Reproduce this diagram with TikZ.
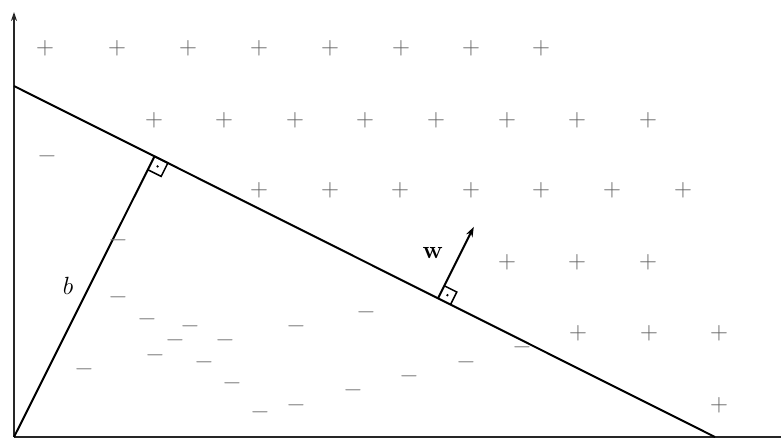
\documentclass[tikz,border=0pt]{standalone}
\usetikzlibrary{arrows.meta,calc}
\begin{document}
\begin{tikzpicture}[x=1pt,y=-1pt,
  pl/.style={inner sep=0pt,text=black!62,font=\fontsize{25}{25}\selectfont},
  mi/.style={inner sep=0pt,text=black!52,font=\fontsize{25}{25}\selectfont},
  lbl/.style={inner sep=0pt,font=\fontsize{25}{25}\selectfont},
  thk/.style={line width=2pt,black},
  ax/.style={line width=1.7pt,black!85}]
\useasboundingbox (0,0) rectangle (781,439);
% axes
\coordinate (O) at (14,437);
\coordinate (Ytop) at (14,12);
\coordinate (Xend) at (790,437);
\draw[ax,-{Stealth[length=9pt,width=6pt]}] (O) -- (Ytop);
\draw[ax,-{Stealth[length=9pt,width=6pt]}] (O) -- (Xend);
% separating line
\coordinate (A) at (14,86);
\coordinate (B) at (715,437);
\draw[thk] (A) -- (B);
% perpendicular b
\coordinate (F1) at (154.5,156.3);
\draw[thk] (O) -- (F1);
\draw[line width=1.5pt] (F1) -- (167.9,163.0) -- (161.2,176.4) -- (147.8,169.7);
\fill (157.6,166.4) circle (1.3pt);
% w vector
\coordinate (F2) at (438,298.3);
\coordinate (W) at (473.8,226.8);
\draw[line width=1.5pt] (450.5,304.6) -- (456.8,292.0) -- (444.3,285.8);
\fill (447.4,295.2) circle (1.3pt);
\draw[thk,-{Stealth[length=10pt,width=7pt]}] (F2) -- (W);
\node[lbl] (wl) at (433,253) {$\mathbf{w}$};
\node[lbl] (bl) at (68,286) {$b$};
% pluses
\foreach \x in {45,117,188,259,330,401,471,541} \node[pl] at (\x,48) {$+$};
\foreach \x in {154,224,295,365,436,507,577,648} \node[pl] at (\x,120) {$+$};
\foreach \x in {259,330,400,471,541,612,683} \node[pl] at (\x,190) {$+$};
\foreach \x in {507,577,648} \node[pl] at (\x,262) {$+$};
\foreach \x in {578,649,719} \node[pl] at (\x,333) {$+$};
\node[pl] at (719,405) {$+$};
% minuses
\foreach \p in {(47,156),(118,240),(118,297),(147,319),(190,326),(296,326),(366,312),(175,340),(225,340),(155,355),(204,362),(84,369),(232,383),(260,412),(296,405),(353,390),(409,376),(466,362),(522,347)}
  \node[mi] at \p {$-$};
\end{tikzpicture}
\end{document}
